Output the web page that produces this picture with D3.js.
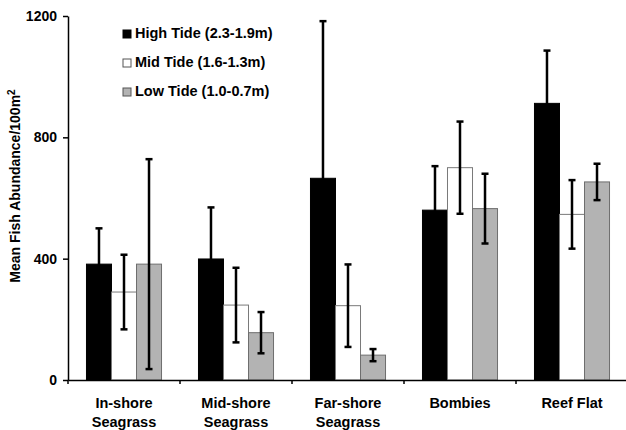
<!DOCTYPE html>
<html>
<head>
<meta charset="utf-8">
<script src="https://cdn.jsdelivr.net/npm/d3@7"></script>
<style>
  body { margin: 0; background: #fff; }
  text { font-family: "Liberation Sans", Arial, sans-serif; font-weight: bold; }
</style>
</head>
<body>
<div id="chart"></div>
<script>
var categories = ["In-shore Seagrass", "Mid-shore Seagrass", "Far-shore Seagrass", "Bombies", "Reef Flat"];
var categoryLines = [["In-shore", "Seagrass"], ["Mid-shore", "Seagrass"], ["Far-shore", "Seagrass"], ["Bombies"], ["Reef Flat"]];
var seriesNames = ["High Tide (2.3-1.9m)", "Mid Tide (1.6-1.3m)", "Low Tide (1.0-0.7m)"];
var highTide = [382, 399, 665, 560, 912];
var highTideErr = [118, 170, 518, 145, 174];
var midTide = [290, 247, 245, 700, 546];
var midTideErr = [123, 123, 136, 152, 113];
var lowTide = [382, 156, 82, 565, 653];
var lowTideErr = [346, 68, 20, 115, 60];
var yTicks = [0, 400, 800, 1200];

var fills = ["#000000", "#ffffff", "#b3b3b3"];
var strokes = ["#000000", "#7a7a7a", "#6e6e6e"];

var values = [highTide, midTide, lowTide];
var errors = [highTideErr, midTideErr, lowTideErr];

var width = 626, height = 430;

var svg = d3.select("#chart")
  .append("svg")
  .attr("width", width)
  .attr("height", height);

var x0 = d3.scaleBand()
  .domain(categories)
  .range([68, 628])
  .paddingInner(0.33)
  .paddingOuter(0.165);

var x1 = d3.scaleBand()
  .domain(seriesNames)
  .range([0, x0.bandwidth()]);

var y = d3.scaleLinear()
  .domain([0, 1200])
  .range([380, 16]);

// bars
seriesNames.forEach(function(s, si) {
  svg.append("g")
    .selectAll("rect")
    .data(categories)
    .enter()
    .append("rect")
    .attr("x", function(c) { return x0(c) + x1(s); })
    .attr("y", function(c, i) { return y(values[si][i]); })
    .attr("width", x1.bandwidth())
    .attr("height", function(c, i) { return y(0) - y(values[si][i]); })
    .attr("fill", fills[si])
    .attr("stroke", strokes[si])
    .attr("stroke-width", 1);
});

// error bars
seriesNames.forEach(function(s, si) {
  var g = svg.append("g");
  categories.forEach(function(c, i) {
    var cx = x0(c) + x1(s) + x1.bandwidth() / 2;
    var top = y(values[si][i] + errors[si][i]);
    var bot = y(Math.max(0, values[si][i] - errors[si][i]));
    g.append("line")
      .attr("x1", cx).attr("x2", cx)
      .attr("y1", top).attr("y2", bot)
      .attr("stroke", "#000").attr("stroke-width", 2.5);
    [top, bot].forEach(function(yy) {
      g.append("line")
        .attr("x1", cx - 3.5).attr("x2", cx + 3.5)
        .attr("y1", yy).attr("y2", yy)
        .attr("stroke", "#000").attr("stroke-width", 2.5);
    });
  });
});

// Y axis
var yAxis = svg.append("g")
  .attr("transform", "translate(68,0)")
  .call(d3.axisLeft(y).tickValues(yTicks).tickFormat(d3.format("d")).tickSize(5).tickSizeOuter(0).tickPadding(6));
yAxis.select(".domain").attr("stroke-width", 1.5);
yAxis.selectAll(".tick line").attr("stroke-width", 1.5);
yAxis.selectAll(".tick text")
  .style("font-size", "14px")
  .style("font-weight", "bold")
  .attr("fill", "#000");

// X axis
var xAxis = svg.append("g")
  .attr("transform", "translate(0,380)")
  .call(d3.axisBottom(x0).tickSize(0).tickSizeOuter(0).tickFormat(""));
xAxis.select(".domain").attr("stroke-width", 1.5);

var step = x0.step();
var edge = (step - x0.bandwidth()) / 2;
xAxis.selectAll(".sep")
  .data(categories)
  .enter()
  .append("line")
  .attr("x1", function(c) { return x0(c) - edge; })
  .attr("x2", function(c) { return x0(c) - edge; })
  .attr("y1", 0).attr("y2", 4)
  .attr("stroke", "#000").attr("stroke-width", 1.5);

// category labels
categories.forEach(function(c, i) {
  var t = svg.append("text")
    .attr("x", x0(c) + x0.bandwidth() / 2)
    .attr("y", 408)
    .attr("text-anchor", "middle")
    .style("font-size", "14.5px");
  categoryLines[i].forEach(function(line, li) {
    t.append("tspan")
      .attr("x", x0(c) + x0.bandwidth() / 2)
      .attr("dy", li === 0 ? 0 : 19)
      .text(line);
  });
});

// Y axis title
var yTitle = svg.append("text")
  .attr("transform", "translate(20,186) rotate(-90)")
  .attr("text-anchor", "middle")
  .style("font-size", "14px");
yTitle.append("tspan").text("Mean Fish Abundance/100m");
yTitle.append("tspan").attr("baseline-shift", "super").style("font-size", "10px").text("2");

// Legend
var legend = svg.append("g");
seriesNames.forEach(function(s, si) {
  var ly = 34 + si * 29;
  legend.append("rect")
    .attr("x", 123).attr("y", ly - 4)
    .attr("width", 8).attr("height", 8)
    .attr("fill", fills[si])
    .attr("stroke", si === 0 ? "#000" : "#555")
    .attr("stroke-width", 1);
  legend.append("text")
    .attr("x", 135).attr("y", ly)
    .attr("dominant-baseline", "middle")
    .style("font-size", "14.5px")
    .text(s);
});
</script>
</body>
</html>
